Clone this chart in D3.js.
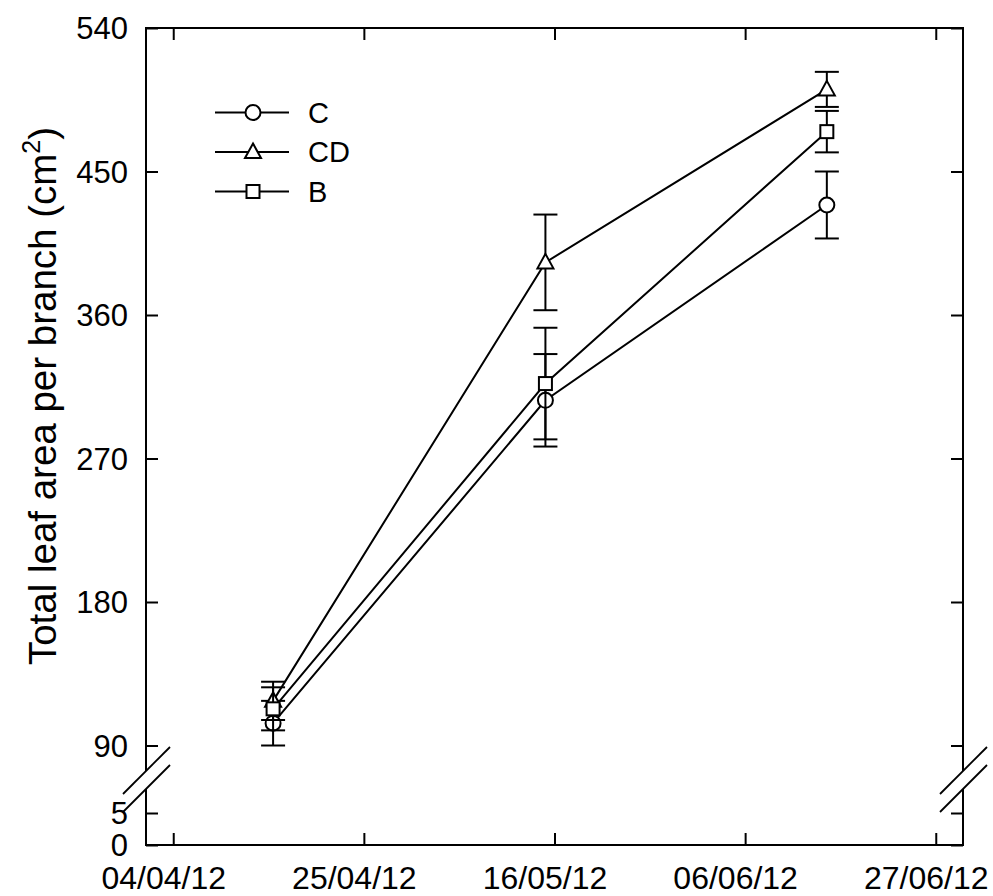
<!DOCTYPE html>
<html>
<head>
<meta charset="utf-8">
<script src="https://cdn.jsdelivr.net/npm/d3@7"></script>
<style>
  html, body { margin: 0; padding: 0; background: #fff; }
  svg { display: block; }
  text { font-family: "Liberation Sans", Arial, sans-serif; fill: #000; }
</style>
</head>
<body>
<svg id="chart" width="993" height="896"></svg>
<script>
// ---- data ----
const dates = ["2012-04-15", "2012-05-15", "2012-06-15"];
const seriesNames = ["C", "CD", "B"];
const valuesC = [104, 306.5, 429];
const errC = [14, 29, 21];
const valuesCD = [118, 393, 501.5];
const errCD = [12, 30, 11];
const valuesB = [113, 317, 475];
const errB = [13.5, 35, 13];
const xTickDates = ["2012-04-04", "2012-04-25", "2012-05-16", "2012-06-06", "2012-06-27"];
const xTickLabels = ["04/04/12", "25/04/12", "16/05/12", "06/06/12", "27/06/12"];
const yTicksUpper = [90, 180, 270, 360, 450, 540];
const yTicksLower = [0, 5];

const parse = d3.timeParse("%Y-%m-%d");
const svg = d3.select("#chart");

const L = 146, R = 963, T = 28, B = 845;
const x = d3.scaleTime()
  .domain([parse("2012-04-01"), parse("2012-06-30")])
  .range([L, R]);
const yU = d3.scaleLinear().domain([90, 540]).range([745.5, T]);
const yL = d3.scaleLinear().domain([0, 5]).range([B, 813]);
const breakTop = 771, breakBot = 789;

const series = [
  { name: "C", vals: valuesC, err: errC, shape: "circle" },
  { name: "CD", vals: valuesCD, err: errCD, shape: "triangle" },
  { name: "B", vals: valuesB, err: errB, shape: "square" }
];

const sw = 2;
const g = svg.append("g");

// frame
g.append("line").attr("x1", L).attr("x2", R).attr("y1", T).attr("y2", T).attr("stroke", "#000").attr("stroke-width", sw);
g.append("line").attr("x1", L).attr("x2", R).attr("y1", B).attr("y2", B).attr("stroke", "#000").attr("stroke-width", sw);
[L, R].forEach(xx => {
  g.append("line").attr("x1", xx).attr("x2", xx).attr("y1", T - 1).attr("y2", breakTop).attr("stroke", "#000").attr("stroke-width", sw);
  g.append("line").attr("x1", xx).attr("x2", xx).attr("y1", breakBot).attr("y2", B + 1).attr("stroke", "#000").attr("stroke-width", sw);
  [breakTop, breakBot].forEach(yy => {
    g.append("line").attr("x1", xx - 23).attr("y1", yy + 23).attr("x2", xx + 24).attr("y2", yy - 24)
      .attr("stroke", "#000").attr("stroke-width", 1.8);
  });
});

// x axis (bottom + top ticks inward)
const xTicks = xTickDates.map(parse);
const xAxisB = d3.axisBottom(x).tickValues(xTicks).tickSize(-12).tickFormat((d, i) => xTickLabels[i]).tickPadding(0);
const gxb = svg.append("g").attr("transform", `translate(0,${B})`).call(xAxisB);
gxb.select(".domain").remove();
gxb.selectAll(".tick line").attr("stroke", "#000").attr("stroke-width", sw);
gxb.selectAll(".tick text").attr("font-size", 32).attr("dy", null).attr("y", 44).attr("dx", -10)
  .attr("font-family", "Liberation Sans, Arial, sans-serif").attr("fill", "#000");

const xAxisT = d3.axisTop(x).tickValues(xTicks).tickSize(-12).tickFormat("");
const gxt = svg.append("g").attr("transform", `translate(0,${T})`).call(xAxisT);
gxt.select(".domain").remove();
gxt.selectAll(".tick line").attr("stroke", "#000").attr("stroke-width", sw);

// y axes
function yAxisPair(scale, ticks) {
  const left = d3.axisLeft(scale).tickValues(ticks).tickSize(-12).tickPadding(18).tickFormat(d3.format("d"));
  const gl = svg.append("g").attr("transform", `translate(${L},0)`).call(left);
  gl.select(".domain").remove();
  gl.selectAll(".tick line").attr("stroke", "#000").attr("stroke-width", sw);
  gl.selectAll(".tick text").attr("font-size", 31).attr("x", -18).attr("dy", "0.35em")
    .attr("font-family", "Liberation Sans, Arial, sans-serif").attr("fill", "#000");
  const right = d3.axisRight(scale).tickValues(ticks).tickSize(-12).tickFormat("");
  const gr = svg.append("g").attr("transform", `translate(${R},0)`).call(right);
  gr.select(".domain").remove();
  gr.selectAll(".tick line").attr("stroke", "#000").attr("stroke-width", sw);
}
yAxisPair(yU, yTicksUpper);
yAxisPair(yL, yTicksLower);

// y label
const ylab = svg.append("text")
  .attr("transform", `translate(56,396) rotate(-90)`)
  .attr("text-anchor", "middle")
  .attr("font-size", 38.5);
ylab.append("tspan").text("Total leaf area per branch (cm");
ylab.append("tspan").attr("font-size", 25).attr("dy", -16).text("2");
ylab.append("tspan").attr("dy", 16).text(")");

// data
const pts = s => dates.map((d, i) => ({ x: x(parse(d)), y: yU(s.vals[i]), v: s.vals[i], e: s.err[i] }));
const line = d3.line().x(d => d.x).y(d => d.y);
series.forEach(s => {
  svg.append("path").datum(pts(s)).attr("d", line).attr("fill", "none").attr("stroke", "#000").attr("stroke-width", sw);
});

function drawMarker(sel, shape, cx, cy) {
  if (shape === "circle") {
    sel.append("circle").attr("cx", cx).attr("cy", cy).attr("r", 7.5)
      .attr("fill", "#fff").attr("stroke", "#000").attr("stroke-width", sw);
  } else if (shape === "square") {
    sel.append("rect").attr("x", cx - 6.5).attr("y", cy - 6.5).attr("width", 13).attr("height", 13)
      .attr("fill", "#fff").attr("stroke", "#000").attr("stroke-width", sw);
  } else {
    sel.append("path").attr("d", `M${cx},${cy - 8.5} L${cx + 8},${cy + 6} L${cx - 8},${cy + 6} Z`)
      .attr("fill", "#fff").attr("stroke", "#000").attr("stroke-width", sw).attr("stroke-linejoin", "miter");
  }
}

series.forEach(s => {
  const gs = svg.append("g");
  pts(s).forEach(p => {
    const yt = yU(p.v + p.e), yb = yU(p.v - p.e);
    gs.append("line").attr("x1", p.x).attr("x2", p.x).attr("y1", yt).attr("y2", yb).attr("stroke", "#000").attr("stroke-width", sw);
    [yt, yb].forEach(yy => gs.append("line").attr("x1", p.x - 12).attr("x2", p.x + 12).attr("y1", yy).attr("y2", yy)
      .attr("stroke", "#000").attr("stroke-width", sw));
    drawMarker(gs, s.shape, p.x, p.y);
  });
});

// legend
const legX1 = 215, legX2 = 289, legMx = 253, legTx = 308;
const legY = d3.scalePoint().domain(seriesNames).range([112.5, 191.5]);
series.forEach(s => {
  const yy = legY(s.name);
  svg.append("line").attr("x1", legX1).attr("x2", legX2).attr("y1", yy).attr("y2", yy).attr("stroke", "#000").attr("stroke-width", sw);
  drawMarker(svg, s.shape, legMx, yy);
  svg.append("text").attr("x", legTx).attr("y", yy).attr("dy", "0.36em").attr("font-size", 29).text(s.name);
});
</script>
</body>
</html>
